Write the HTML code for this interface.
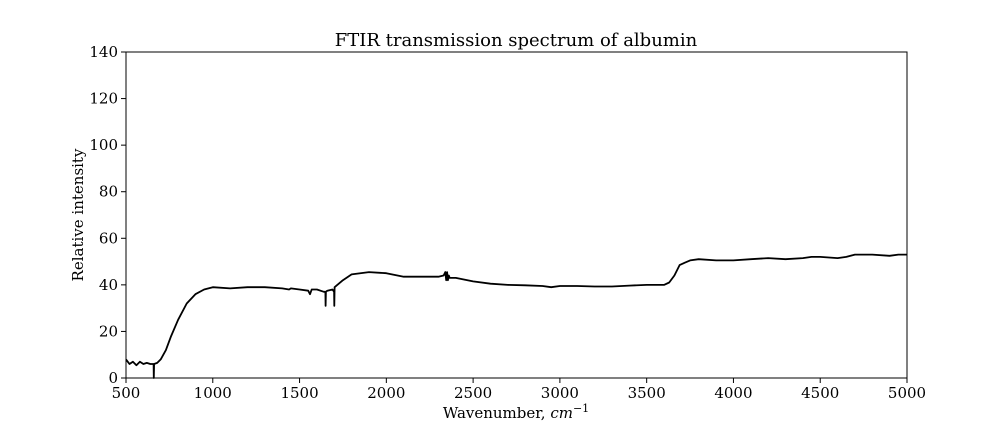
<!DOCTYPE html>
<html><head><meta charset="utf-8"><style>
body{margin:0;background:#fff;width:1008px;height:432px;overflow:hidden}
text{font-family:"DejaVu Serif","Liberation Serif",serif;fill:#000}
</style></head><body>
<svg id="chart" width="1008" height="432">
<text x="516" y="46" font-size="18" text-anchor="middle">FTIR transmission spectrum of albumin</text>
<g id="axes"></g>
<path id="line" fill="none" stroke="#000" stroke-width="1.8" stroke-linejoin="round"></path>
<rect x="126" y="52" width="781" height="326" fill="none" stroke="#000" stroke-width="1"></rect>
<text x="516" y="418" font-size="15" text-anchor="middle">Wavenumber, <tspan font-style="italic">cm</tspan><tspan font-size="11" dy="-6">−1</tspan></text>
<text transform="translate(83,215) rotate(-90)" font-size="15" text-anchor="middle">Relative intensity</text>
</svg>
<script>
const wavenumbers=[500,520,540,560,580,600,620,640,659,660,662,680,700,730,760,800,850,900,950,1000,1100,1200,1300,1400,1440,1450,1500,1550,1560,1570,1600,1640,1649,1650,1652,1660,1690,1699,1700,1702,1750,1800,1900,2000,2100,2200,2300,2330,2340,2345,2350,2355,2360,2365,2400,2500,2600,2700,2800,2900,2950,3000,3100,3200,3300,3400,3500,3600,3630,3660,3690,3720,3750,3800,3900,4000,4100,4200,4300,4400,4450,4500,4600,4650,4700,4800,4900,4950,5000];
const intensity=[8,6,7,5.5,7,6,6.5,6,6,0,6,6.5,8,12,18,25,32,36,38,39,38.5,39,39,38.5,38,38.5,38,37.5,36,38,38,37,37,31,37,37.5,38,37,31,39,42,44.5,45.5,45,43.5,43.5,43.5,44,45.5,42,45.5,42,44,43,43,41.5,40.5,40,39.8,39.5,39,39.5,39.5,39.3,39.3,39.7,40,40,41,44,48.5,49.5,50.5,51,50.5,50.5,51,51.5,51,51.5,52,52,51.5,52,53,53,52.5,53,53];
const xTicks=[500,1000,1500,2000,2500,3000,3500,4000,4500,5000];
const yTicks=[0,20,40,60,80,100,120,140];
const X=v=>126+(v-500)/4500*781, Y=v=>378-v/140*326;
const ns="http://www.w3.org/2000/svg", ax=document.getElementById('axes');
function mk(t,a){const e=document.createElementNS(ns,t);for(const k in a)e.setAttribute(k,a[k]);ax.appendChild(e);return e;}
xTicks.forEach(t=>{
 const l=mk('line',{x1:X(t),x2:X(t),y1:378,y2:383,stroke:'#000'});
 
 
 const s=mk('text',{x:X(t),y:398,'font-size':15,'text-anchor':'middle'});s.textContent=t;
 
 
});
yTicks.forEach(t=>{
 const l=mk('line',{x1:121,x2:126,y1:Y(t),y2:Y(t),stroke:'#000'});
 
 
 const s=mk('text',{x:118,y:Y(t)+5,'font-size':15,'text-anchor':'end'});s.textContent=t;
 
 
});
document.getElementById('line').setAttribute('d',wavenumbers.map((w,i)=>(i?'L':'M')+X(w).toFixed(1)+','+Y(intensity[i]).toFixed(1)).join(''));
</script>
</body></html>
